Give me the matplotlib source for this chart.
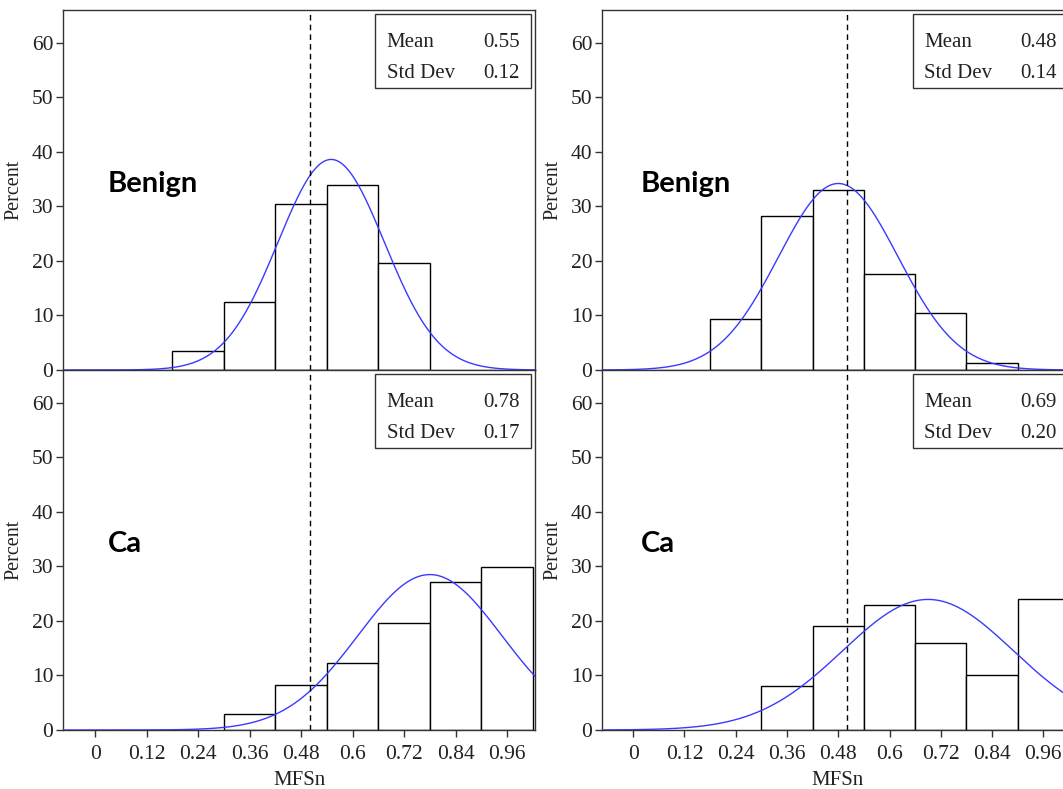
import numpy as np
import matplotlib
matplotlib.use("Agg")
import matplotlib.pyplot as plt
from matplotlib.patches import Rectangle
from matplotlib.transforms import blended_transform_factory

# bin centres (width 0.12) and percentages per panel
bin_centers = [0.24, 0.36, 0.48, 0.60, 0.72, 0.84, 0.96]
bin_width = 0.12

benign_left = [3.5, 12.5, 30.4, 34.0, 19.7, 0.0, 0.0]
ca_left = [0.0, 2.9, 8.3, 12.2, 19.6, 27.1, 29.9]
benign_right = [9.35, 28.3, 33.0, 17.65, 10.5, 1.2, 0.0]
ca_right = [0.0, 8.0, 19.0, 23.0, 16.0, 10.0, 24.0]

# fitted normal parameters (unrounded for the curve, rounded in the boxes)
means = {"bl": 0.55, "cl": 0.78, "br": 0.48, "cr": 0.69}
stds = {"bl": 0.124, "cl": 0.168, "br": 0.14, "cr": 0.20}
mean_txt = {"bl": "0.55", "cl": "0.78", "br": "0.48", "cr": "0.69"}
std_txt = {"bl": "0.12", "cl": "0.17", "br": "0.14", "cr": "0.20"}

xtick_vals = [0, 0.12, 0.24, 0.36, 0.48, 0.6, 0.72, 0.84, 0.96]
xtick_labels = ["0", "0.12", "0.24", "0.36", "0.48", "0.6", "0.72", "0.84", "0.96"]
ytick_vals = [0, 10, 20, 30, 40, 50, 60]
cutoff = 0.5

plt.rcParams["font.family"] = ["Liberation Serif", "DejaVu Serif"]

fig = plt.figure(figsize=(10.63, 7.89), dpi=100)

W, H = 1063.0, 789.0
cols = {"l": (63 / W, 472 / W, (-0.075, 1.025)), "r": (602 / W, 470 / W, (-0.073, 1.027))}
rows = {"top": (1 - 370 / H, 360 / H), "bot": (1 - 730 / H, 360 / H)}

panels = [
    ("bl", "l", "top", benign_left, "Benign"),
    ("cl", "l", "bot", ca_left, "Ca"),
    ("br", "r", "top", benign_right, "Benign"),
    ("cr", "r", "bot", ca_right, "Ca"),
]

frame_col = "#333333"
text_col = "#222222"

for key, c, r, vals, label in panels:
    x0, w, xl = cols[c]
    y0, h = rows[r]
    ax = fig.add_axes([x0, y0, w, h])
    ax.set_xlim(*xl)
    ax.set_ylim(0, 66)

    for s in ax.spines.values():
        s.set_color(frame_col)
        s.set_linewidth(1.0)

    # histogram bars
    cx = [b for b, v in zip(bin_centers, vals) if v > 0]
    hv = [v for v in vals if v > 0]
    ax.bar(cx, hv, width=bin_width, facecolor="white", edgecolor="black", linewidth=1.0, zorder=2)

    # normal curve
    xs = np.linspace(xl[0], xl[1], 400)
    m, sd = means[key], stds[key]
    ys = 100 * bin_width / (sd * np.sqrt(2 * np.pi)) * np.exp(-0.5 * ((xs - m) / sd) ** 2)
    ax.plot(xs, ys, color="#3a3aff", linewidth=1.0, zorder=3)

    # cut-off line
    ax.axvline(cutoff, color="black", linestyle=(0, (4, 3)), linewidth=1.0, zorder=4)

    ax.set_yticks(ytick_vals)
    ax.set_yticklabels([str(v) for v in ytick_vals])
    ax.tick_params(axis="y", direction="out", length=5, width=1, color=frame_col,
                   labelcolor=text_col, labelsize=15.5, pad=2)
    ax.set_ylabel("Percent", fontsize=14.5, labelpad=6, color=text_col)

    if r == "bot":
        ax.set_xticks(xtick_vals)
        ax.set_xticklabels(xtick_labels)
        ax.tick_params(axis="x", direction="out", length=5, width=1, color=frame_col,
                       labelcolor=text_col, labelsize=15.5, pad=6)
        ax.set_xlabel("MFSn", fontsize=15, labelpad=5, color=text_col)
    else:
        ax.set_xticks([])

    # stats box
    ax.add_patch(Rectangle((0.661, 0.783), 0.3305, 0.206, transform=ax.transAxes,
                           facecolor="white", edgecolor=frame_col, linewidth=1.0, zorder=5))
    for txt, xx, ha, yy in [("Mean", 0.686, "left", 0.909), (mean_txt[key], 0.968, "right", 0.909),
                            ("Std Dev", 0.686, "left", 0.823), (std_txt[key], 0.968, "right", 0.823)]:
        ax.text(xx, yy, txt, transform=ax.transAxes, fontsize=15, va="center", ha=ha,
                color=text_col, zorder=6)

    # group label, axes-x / data-y
    lx = 0.095 if c == "l" else 0.083
    ax.text(lx, 32.7, label, transform=blended_transform_factory(ax.transAxes, ax.transData),
            fontsize=21, fontweight="bold", family=["Lato", "DejaVu Sans"], va="baseline", ha="left")

fig.savefig("out.png", dpi=100)
